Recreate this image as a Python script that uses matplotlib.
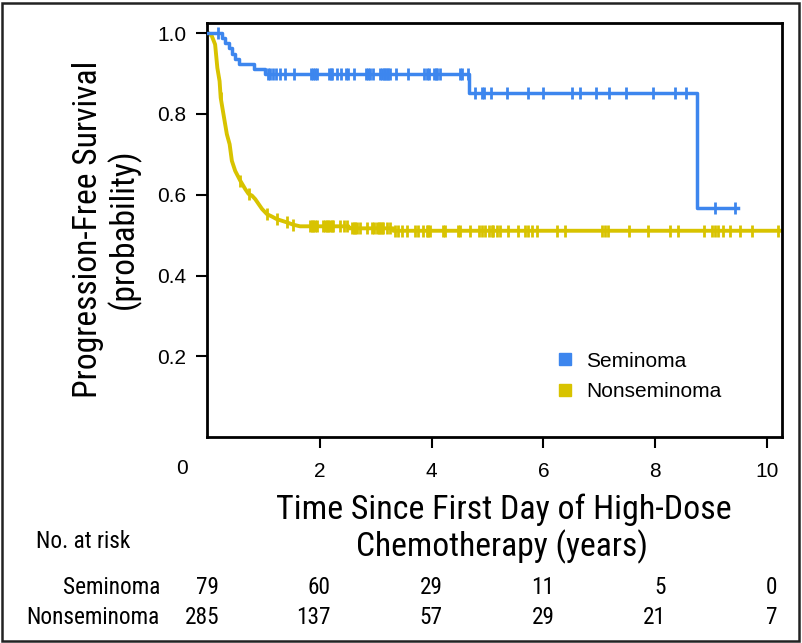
import numpy as np
import matplotlib.pyplot as plt
from matplotlib.lines import Line2D
from matplotlib.patches import Rectangle
from matplotlib import font_manager

plt.rcParams['font.family'] = ['Liberation Sans', 'DejaVu Sans']


def find_narrow():
    """Pick an installed condensed sans face, best match first."""
    prefs = ['liberation sans narrow', 'roboto condensed', 'noto sans', 'open sans',
             'dejavu sans']
    found = []
    for f in font_manager.fontManager.ttflist:
        name = f.name.lower()
        path = f.fname.lower()
        narrow = ('narrow' in name or 'condensed' in name or 'condensed' in path
                  or 'narrow' in path or f.stretch in ('condensed', 'semi-condensed'))
        if not narrow or f.style != 'normal':
            continue
        if f.weight not in (400, 'normal', 'regular'):
            continue
        if 'extra' in path or 'semicond' in path or 'semi' in path:
            continue
        rank = len(prefs)
        for i, p in enumerate(prefs):
            if name.startswith(p):
                rank = i
                break
        found.append((rank, f.fname))
    if not found:
        return font_manager.FontProperties(family='DejaVu Sans')
    found.sort()
    return font_manager.FontProperties(fname=found[0][1])


NARROW = find_narrow()

BLUE = '#3d86ee'
YELLOW = '#d8c300'

# Seminoma: Kaplan-Meier steps (years, probability)
sem_time = [0.0, 0.24, 0.30, 0.36, 0.42, 0.48, 0.54, 0.81, 1.02, 4.66, 8.75, 9.48]
sem_surv = [1.0, 0.987, 0.975, 0.962, 0.949, 0.937, 0.924, 0.911, 0.899, 0.851, 0.568, 0.568]
sem_cens_t = [0.18,
              1.06, 1.10, 1.15, 1.21, 1.28, 1.37, 1.54, 1.83, 1.87, 1.91, 1.95,
              2.16, 2.19, 2.22, 2.30, 2.37, 2.46, 2.50, 2.61, 2.82, 2.85, 2.90,
              2.94, 3.08, 3.11, 3.14, 3.17, 3.20, 3.22, 3.25, 3.36, 3.57, 3.87,
              3.91, 3.95, 4.04, 4.07, 4.10, 4.14, 4.51, 4.54, 4.65,
              4.78, 4.90, 4.93, 5.06, 5.34, 5.72, 5.99, 6.51, 6.65, 6.94, 7.18,
              7.48, 7.97, 8.35, 8.56,
              9.08, 9.43]

# Nonseminoma: many small steps, traced as a polyline through read points
non_time = [0.0, 0.06, 0.12, 0.16, 0.20, 0.22, 0.27, 0.33, 0.38, 0.42, 0.48,
            0.57, 0.66, 0.72, 0.78, 0.84, 0.90, 0.96, 1.05, 1.14, 1.22, 1.31,
            1.40, 1.52, 1.64, 2.51, 2.51, 3.31, 3.31, 10.27]
non_surv = [1.0, 0.993, 0.972, 0.914, 0.881, 0.840, 0.799, 0.750, 0.725, 0.684,
            0.659, 0.635, 0.614, 0.602, 0.598, 0.589, 0.577, 0.565, 0.552, 0.546,
            0.540, 0.536, 0.532, 0.526, 0.522, 0.522, 0.517, 0.517, 0.511, 0.511]
non_cens_t = [0.22, 0.57, 0.72, 1.05, 1.22, 1.40, 1.52,
              1.82, 1.85, 1.88, 1.91, 1.94, 2.06, 2.09, 2.12, 2.15, 2.18, 2.21,
              2.24, 2.36, 2.42, 2.48, 2.57, 2.60, 2.63, 2.66, 2.72, 2.84, 2.93,
              2.96, 3.02, 3.05, 3.08, 3.11, 3.13, 3.20, 3.25, 3.34, 3.40, 3.46,
              3.55, 3.70, 3.76, 3.85, 3.91, 3.94, 3.97, 4.21, 4.24, 4.48, 4.51,
              4.69, 4.84, 4.90, 4.96, 5.02, 5.08, 5.10, 5.17, 5.22, 5.37, 5.55,
              5.67, 5.73, 5.79, 5.88, 6.24, 6.39, 7.05, 7.11, 7.16, 7.54, 7.88,
              8.27, 8.41, 8.87, 9.02, 9.08, 9.13, 9.22, 9.34, 9.52, 9.73, 10.21]

risk_times = [0, 2, 4, 6, 8, 10]
risk_sem = [79, 60, 29, 11, 5, 0]
risk_non = [285, 137, 57, 29, 21, 7]


def step_at(times, surv, t):
    idx = np.searchsorted(times, t, side='right') - 1
    return np.asarray(surv)[idx]


W, H = 802, 643
fig = plt.figure(figsize=(W / 100, H / 100), dpi=100)
ax = fig.add_axes([207.3 / W, 1 - 437.3 / H, (781.7 - 207.3) / W, (437.3 - 23) / H])

ax.step(sem_time, sem_surv, where='post', color=BLUE, lw=2.5, zorder=3)
ax.plot(sem_cens_t, step_at(sem_time, sem_surv, sem_cens_t), ls='none',
        marker='|', ms=8, mew=2, color=BLUE, zorder=3)

ax.plot(non_time, non_surv, color=YELLOW, lw=2.8, zorder=2)
ax.plot(non_cens_t, np.interp(non_cens_t, non_time, non_surv), ls='none',
        marker='|', ms=8, mew=2, color=YELLOW, zorder=2)

ax.set_xlim(-0.02, 10.27)
ax.set_ylim(0, 1.025)
ax.set_xticks([2, 4, 6, 8, 10])
ax.set_yticks([0.2, 0.4, 0.6, 0.8, 1.0])
ax.set_yticklabels(['0.2', '0.4', '0.6', '0.8', '1.0'])
ax.tick_params(axis='both', labelsize=15, width=1.5, length=8)
ax.tick_params(axis='x', pad=10)
ax.tick_params(axis='y', pad=7)
for s in ax.spines.values():
    s.set_linewidth(2)

# lone "0" at the corner
fig.text(182 / W, 1 - 468 / H, '0', fontsize=15, ha='center', va='center')


def ftext(x, y, s, width, **kw):
    """Place text in pixel coords and size it to the width seen in the reference."""
    t = fig.text(x / W, 1 - y / H, s, fontproperties=NARROW.copy(), **kw)
    t.set_fontsize(20)
    r = fig.canvas.get_renderer()
    bb = t.get_window_extent(r)
    w = bb.height if kw.get('rotation') == 90 else bb.width
    t.set_fontsize(20 * width / w)
    return t


# axis labels
ftext(88, 229, 'Progression-Free Survival', 338, rotation=90, ha='center', va='center')
ftext(124, 229, '(probability)', 160, rotation=90, ha='center', va='center')
ftext(504, 510, 'Time Since First Day of High-Dose', 456, ha='center', va='center')
ftext(502, 547, 'Chemotherapy (years)', 292, ha='center', va='center')

# legend
handles = [Line2D([], [], ls='none', marker='s', ms=9, color=BLUE),
           Line2D([], [], ls='none', marker='s', ms=9, color=YELLOW)]
ax.legend(handles, ['Seminoma', 'Nonseminoma'], loc='upper left',
          bbox_to_anchor=((538 - 207.3) / 574.4, (437.3 - 333) / 414.3),
          frameon=False, handlelength=0.8, handletextpad=0.6, labelspacing=0.55,
          prop={'size': 15})

# number at risk table
ref = ftext(27, 617, 'Nonseminoma', 133, ha='left', va='center')
size = ref.get_fontsize()
ref.remove()
fig.text(36 / W, 1 - 542 / H, 'No. at risk', fontproperties=NARROW, fontsize=size,
         ha='left', va='center')
for row_y, name, counts in [(587, 'Seminoma', risk_sem), (617, 'Nonseminoma', risk_non)]:
    fig.text(160 / W, 1 - row_y / H, name, fontproperties=NARROW, fontsize=size,
             ha='right', va='center')
    for t, n in zip(risk_times, counts):
        xp = 208.3 + t * 55.83 + 11
        fig.text(xp / W, 1 - row_y / H, str(n), fontproperties=NARROW, fontsize=size,
                 ha='right', va='center')

# frame round the whole figure
fig.patches.append(Rectangle((2 / W, 2 / H), 797 / W, 638 / H, transform=fig.transFigure,
                             fill=False, lw=1.8, ec='#222222'))

fig.savefig('out.png', dpi=100)
